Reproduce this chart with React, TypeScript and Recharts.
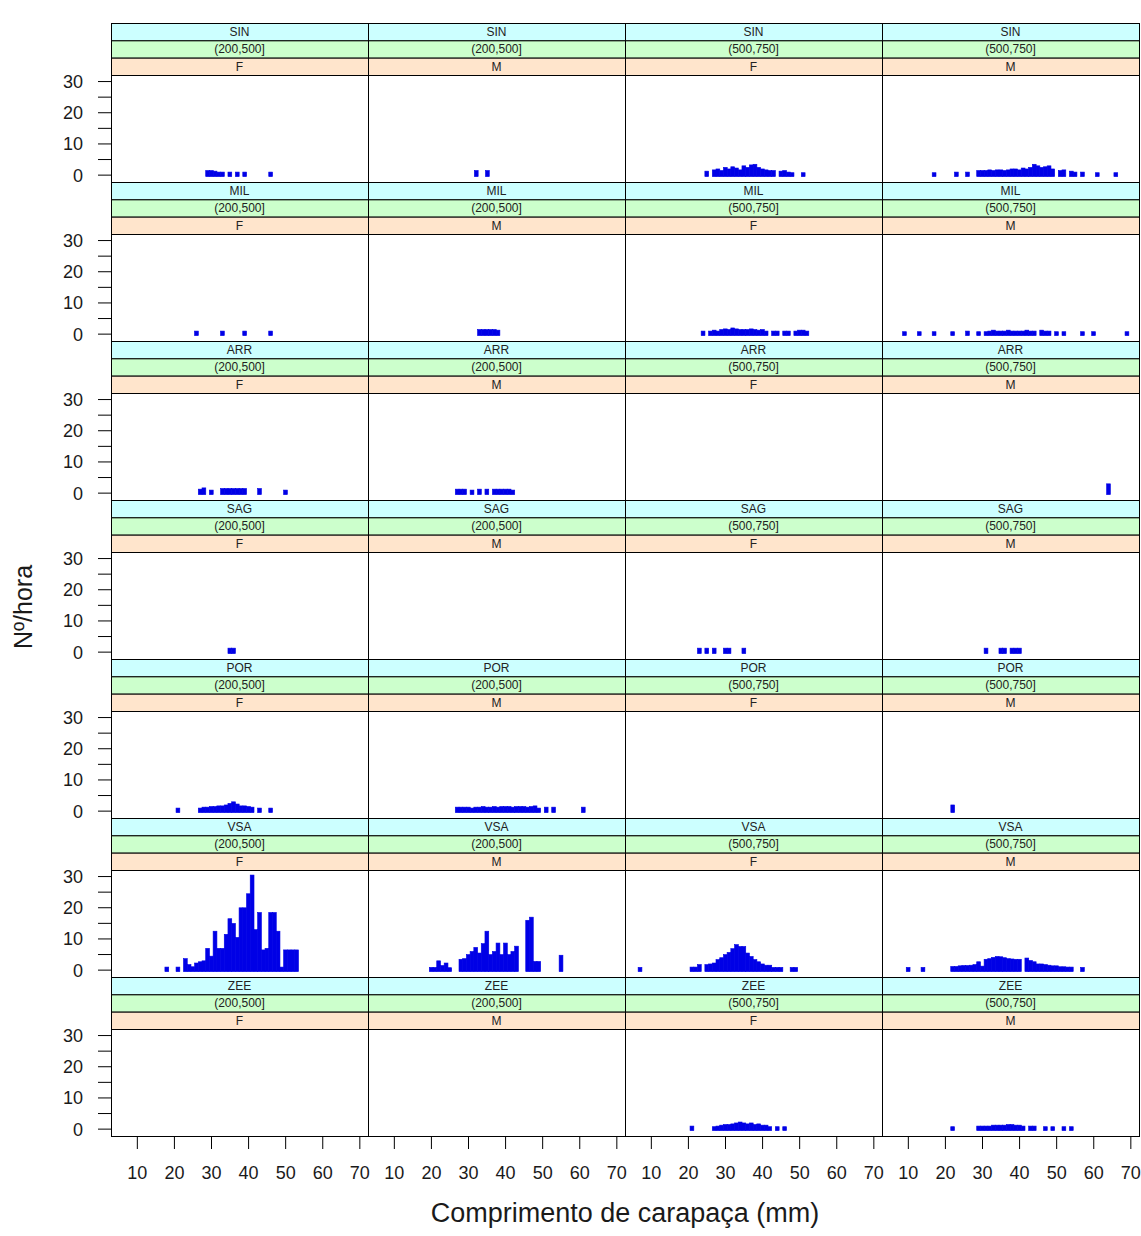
import React from 'react';
import { BarChart, Bar, XAxis, YAxis } from 'recharts';

type Pt = [number, number];

const LOCATIONS = ['SIN', 'MIL', 'ARR', 'SAG', 'POR', 'VSA', 'ZEE'];
const SIZE_CLASSES = ['(200,500]', '(200,500]', '(500,750]', '(500,750]'];
const SEXES = ['F', 'M', 'F', 'M'];
const X_TICKS = [10, 20, 30, 40, 50, 60, 70];
const Y_TICKS = [0, 5, 10, 15, 20, 25, 30];
const X_DOMAIN: [number, number] = [2.9, 72.2];
const Y_DOMAIN: [number, number] = [-2.2, 32.1];
const X_TITLE = 'Comprimento de carapaça (mm)';
const Y_TITLE = 'Nº/hora';

// [carapace length (mm), Nº/hora]
const SIN_A_F: Pt[] = [[29, 1], [30, 1], [31, 0.8], [32, 0.5], [33, 0.5], [35, 0.5], [37, 0.5], [39, 0.5], [46, 0.5]];
const SIN_A_M: Pt[] = [[32, 1], [35, 1]];
const SIN_B_F: Pt[] = [[25, 0.8], [27, 1.2], [28, 1.5], [29, 1], [30, 2], [31, 1.5], [32, 2.2], [33, 1.8], [34, 1.2], [35, 2.5], [36, 2], [37, 2.8], [38, 3], [39, 2], [40, 1.5], [41, 1.2], [42, 1], [43, 1], [45, 0.8], [46, 1], [47, 0.5], [48, 0.3], [51, 0.3]];
const SIN_B_M: Pt[] = [[17, 0.3], [23, 0.5], [26, 0.5], [29, 1], [30, 1], [31, 1], [32, 1.2], [33, 1], [34, 1.2], [35, 1.2], [36, 1], [37, 1.2], [38, 1.5], [39, 1.5], [40, 1.2], [41, 1.8], [42, 1.5], [43, 2], [44, 3], [45, 2.5], [46, 2], [47, 2.2], [48, 2.5], [49, 1.5], [51, 1], [52, 1.2], [54, 0.8], [55, 0.5], [57, 0.5], [61, 0.3], [66, 0.3]];

const MIL_A_F: Pt[] = [[26, 0.5], [33, 0.5], [39, 0.5], [46, 0.5]];
const MIL_A_M: Pt[] = [[33, 1], [34, 1], [35, 1], [36, 1], [37, 1], [38, 0.8]];
const MIL_B_F: Pt[] = [[24, 0.5], [26, 0.5], [27, 0.8], [28, 0.5], [29, 1], [30, 1.2], [31, 1], [32, 1.5], [33, 1.2], [34, 1], [35, 1], [36, 1], [37, 1.2], [38, 1], [39, 0.8], [40, 1], [41, 0.5], [43, 0.5], [44, 0.5], [46, 0.5], [47, 0.5], [49, 0.5], [50, 0.8], [51, 0.8], [52, 0.5]];
const MIL_B_M: Pt[] = [[9, 0.3], [13, 0.3], [17, 0.3], [22, 0.3], [26, 0.5], [29, 0.3], [31, 0.3], [32, 0.5], [33, 0.8], [34, 0.5], [35, 0.5], [36, 0.5], [37, 0.8], [38, 0.5], [39, 0.5], [40, 0.5], [41, 0.5], [42, 0.8], [43, 0.5], [44, 0.5], [46, 0.8], [47, 0.5], [48, 0.5], [50, 0.3], [52, 0.3], [57, 0.3], [60, 0.3], [69, 0.3]];

const ARR_A_F: Pt[] = [[27, 0.8], [28, 1.2], [30, 0.5], [33, 1], [34, 1], [35, 1], [36, 1], [37, 1], [38, 1], [39, 1], [43, 1], [50, 0.5]];
const ARR_A_M: Pt[] = [[27, 0.8], [28, 0.8], [29, 0.8], [31, 0.5], [33, 0.8], [35, 0.8], [37, 0.8], [38, 0.8], [39, 0.8], [40, 0.8], [41, 0.8], [42, 0.5]];
const ARR_B_F: Pt[] = [];
const ARR_B_M: Pt[] = [[64, 2.5]];

const SAG_A_F: Pt[] = [[35, 0.8], [36, 0.8]];
const SAG_A_M: Pt[] = [];
const SAG_B_F: Pt[] = [[23, 0.8], [25, 0.8], [27, 0.8], [30, 0.8], [31, 0.8], [35, 0.8]];
const SAG_B_M: Pt[] = [[31, 0.8], [35, 0.8], [36, 0.8], [38, 0.8], [39, 0.8], [40, 0.8]];

const POR_A_F: Pt[] = [[21, 0.5], [27, 0.5], [28, 0.8], [29, 0.8], [30, 1], [31, 1], [32, 1.2], [33, 1.2], [34, 1.5], [35, 2], [36, 2.5], [37, 1.8], [38, 1.2], [39, 1.2], [40, 1], [41, 0.8], [43, 0.5], [46, 0.5]];
const POR_A_M: Pt[] = [[27, 0.8], [28, 0.8], [29, 0.8], [30, 0.8], [31, 0.5], [32, 0.8], [33, 0.8], [34, 1], [35, 0.8], [36, 0.8], [37, 1], [38, 0.8], [39, 1], [40, 1], [41, 1], [42, 0.8], [43, 1], [44, 1], [45, 1], [46, 0.8], [47, 1], [48, 1.2], [49, 0.5], [51, 0.8], [53, 0.8], [61, 0.8]];
const POR_B_F: Pt[] = [];
const POR_B_M: Pt[] = [[22, 1.5]];

const VSA_A_F: Pt[] = [[18, 0.5], [21, 0.5], [23, 3.2], [24, 1.3], [25, 0.6], [26, 1.8], [27, 2.2], [28, 2.5], [29, 6.5], [30, 4], [31, 12], [32, 6.5], [33, 6.5], [34, 11], [35, 16], [36, 14.5], [37, 10], [38, 19.5], [39, 19.5], [40, 24], [41, 30], [42, 12.5], [43, 18], [44, 6], [45, 6.5], [46, 18], [47, 18], [48, 12], [49, 0.5], [50, 6], [51, 6], [52, 6], [53, 6]];
const VSA_A_M: Pt[] = [[20, 0.4], [21, 0.4], [22, 2.5], [23, 1], [24, 1.8], [25, 0.3], [28, 3], [29, 3.2], [30, 4.5], [31, 5.5], [32, 6.8], [33, 5], [34, 8], [35, 12], [36, 4.5], [37, 5.5], [38, 8.2], [39, 4.5], [40, 8.2], [41, 4.5], [42, 5.5], [43, 7.2], [46, 15.5], [47, 16.5], [48, 2.3], [49, 2.3], [55, 4.3]];
const VSA_B_F: Pt[] = [[7, 0.4], [21, 0.5], [22, 0.5], [23, 1.3], [25, 1.3], [26, 1.5], [27, 1.8], [28, 2.9], [29, 3.5], [30, 4.5], [31, 5.2], [32, 6.4], [33, 7.7], [34, 7.1], [35, 7.1], [36, 5], [37, 3.9], [38, 2.9], [39, 2.2], [40, 1.5], [41, 1.1], [42, 1.1], [43, 0.4], [44, 0.4], [45, 0.4], [48, 0.4], [49, 0.4]];
const VSA_B_M: Pt[] = [[10, 0.4], [14, 0.4], [22, 0.7], [23, 0.7], [24, 0.9], [25, 1], [26, 1], [27, 1.1], [28, 1.3], [29, 2.2], [30, 0.8], [31, 3], [32, 3.2], [33, 3.6], [34, 3.9], [35, 3.8], [36, 3.5], [37, 3.2], [38, 3.1], [39, 3], [40, 3], [42, 3.4], [43, 2.6], [44, 2.2], [45, 1.5], [46, 1.5], [47, 1.3], [48, 1.1], [49, 0.9], [50, 0.9], [51, 0.6], [52, 0.6], [53, 0.5], [54, 0.5], [57, 0.4]];

const ZEE_A_F: Pt[] = [];
const ZEE_A_M: Pt[] = [];
const ZEE_B_F: Pt[] = [[21, 0.5], [27, 0.3], [28, 0.5], [29, 0.8], [30, 1], [31, 1], [32, 1.2], [33, 1.5], [34, 1.8], [35, 1.5], [36, 1.2], [37, 1.5], [38, 1], [39, 1.2], [40, 0.8], [41, 0.8], [42, 0.3], [44, 0.3], [46, 0.3]];
const ZEE_B_M: Pt[] = [[22, 0.3], [29, 0.5], [30, 0.5], [31, 0.5], [32, 0.5], [33, 0.8], [34, 0.8], [35, 0.8], [36, 0.8], [37, 1], [38, 1], [39, 0.8], [40, 0.8], [41, 0.5], [43, 0.5], [44, 0.5], [47, 0.3], [49, 0.3], [52, 0.3], [54, 0.3]];

const PANELS: Pt[][][] = [
  [SIN_A_F, SIN_A_M, SIN_B_F, SIN_B_M],
  [MIL_A_F, MIL_A_M, MIL_B_F, MIL_B_M],
  [ARR_A_F, ARR_A_M, ARR_B_F, ARR_B_M],
  [SAG_A_F, SAG_A_M, SAG_B_F, SAG_B_M],
  [POR_A_F, POR_A_M, POR_B_F, POR_B_M],
  [VSA_A_F, VSA_A_M, VSA_B_F, VSA_B_M],
  [ZEE_A_F, ZEE_A_M, ZEE_B_F, ZEE_B_M],
];

// layout
const FONT = '"Liberation Sans", Arial, Helvetica, sans-serif';
const COL_X = [111, 368, 625, 882];
const PW = 257;
const TOP0 = 23;
const ROW_H = 159;
const SH = 52 / 3;
const PH = 107;
const LEFT_W = 71;
const BOTTOM_H = 60;
const PAD = 10;
const PAD_R = 16;
const BAR_W = 3.8;
const BAR_FILL = '#0000E6';
const TEXT = '#1a1a1a';

function BarShape(props: any) {
  const { x, y, width, height } = props;
  if (![x, y, width, height].every((v: any) => Number.isFinite(v))) return null;
  const cx = x + width / 2;
  const top = Math.min(y, y + height) - 1.5;
  const h = Math.abs(height) + 3;
  return (
    <rect
      x={cx - BAR_W / 2}
      y={top}
      width={BAR_W}
      height={h}
      fill={BAR_FILL}
      stroke={BAR_FILL}
      strokeWidth={0.6}
    />
  );
}

function Panel({ data, col, row }: { data: Pt[]; col: number; row: number }) {
  const showY = col === 0;
  const showX = row === LOCATIONS.length - 1;
  const w = PW + (showY ? LEFT_W : 0) + PAD_R;
  const h = PH + PAD * 2 + (showX ? BOTTOM_H : 0);
  const left = COL_X[col] - (showY ? LEFT_W : 0);
  const top = TOP0 + row * ROW_H + 52 - PAD;
  const rows = data.map(([x, y]) => ({ x, y }));
  return (
    <div style={{ position: 'absolute', left, top, width: w, height: h }}>
      <BarChart width={w} height={h} data={rows} margin={{ top: PAD, right: PAD_R, bottom: PAD, left: 0 }}>
        <XAxis
          dataKey="x"
          type="number"
          domain={X_DOMAIN}
          allowDataOverflow
          ticks={X_TICKS}
          interval={0}
          hide={!showX}
          height={BOTTOM_H}
          axisLine={false}
          tickLine={{ stroke: '#000' }}
          tickSize={13}
          tickMargin={17}
          tick={{ fontSize: 18, fill: TEXT, fontFamily: FONT }}
        />
        <YAxis
          type="number"
          domain={Y_DOMAIN}
          allowDataOverflow
          ticks={Y_TICKS}
          interval={0}
          hide={!showY}
          width={LEFT_W}
          axisLine={false}
          tickLine={{ stroke: '#000' }}
          tickSize={13}
          tickMargin={15}
          tickFormatter={(v: number) => (v % 10 === 0 ? String(v) : '')}
          tick={{ fontSize: 18, fill: TEXT, fontFamily: FONT }}
        />
        <Bar dataKey="y" barSize={3.8} shape={BarShape} isAnimationActive={false} />
      </BarChart>
    </div>
  );
}

function TopAxis({ col }: { col: number }) {
  return (
    <div style={{ position: 'absolute', left: COL_X[col], top: TOP0 - 12, width: PW, height: 13 }}>
      <BarChart width={PW} height={13} data={[{ x: 10, y: 0 }]} margin={{ top: 0, right: 0, bottom: 0, left: 0 }}>
        <XAxis
          dataKey="x"
          type="number"
          orientation="top"
          domain={X_DOMAIN}
          allowDataOverflow
          ticks={X_TICKS}
          interval={0}
          height={12}
          tickSize={12}
          tick={false}
          axisLine={false}
          tickLine={{ stroke: '#000' }}
        />
        <YAxis hide domain={[0, 1]} />
      </BarChart>
    </div>
  );
}

function Frame() {
  const els: React.ReactNode[] = [];
  LOCATIONS.forEach((loc, r) => {
    COL_X.forEach((cx, c) => {
      const y0 = TOP0 + r * ROW_H;
      const labels = [loc, SIZE_CLASSES[c], SEXES[c]];
      const fills = ['#CCFFFF', '#CCFFCC', '#FFE5CC'];
      labels.forEach((lab, i) => {
        const sy = y0 + i * SH;
        els.push(
          <rect key={`s${r}-${c}-${i}`} x={cx + 0.5} y={sy + 0.5} width={PW} height={SH} fill={fills[i]} stroke="#000" strokeWidth={1} />
        );
        els.push(
          <text key={`t${r}-${c}-${i}`} x={cx + PW / 2} y={sy + SH / 2 + 4.3} textAnchor="middle" fontSize={12} fill="#222" fontFamily={FONT}>
            {lab}
          </text>
        );
      });
      els.push(
        <rect key={`p${r}-${c}`} x={cx + 0.5} y={y0 + 52 + 0.5} width={PW} height={PH} fill="none" stroke="#000" strokeWidth={1} />
      );
    });
  });
  return (
    <svg width={1141} height={1236} style={{ position: 'absolute', left: 0, top: 0, pointerEvents: 'none' }}>
      {els}
      <text x={625} y={1222} textAnchor="middle" fontSize={27} fill={TEXT} fontFamily={FONT}>
        {X_TITLE}
      </text>
      <text x={32} y={607} transform="rotate(-90 32 607)" textAnchor="middle" fontSize={25} fill={TEXT} fontFamily={FONT}>
        {Y_TITLE}
      </text>
    </svg>
  );
}

export default function App() {
  return (
    <div style={{ position: 'absolute', left: 0, top: 0, width: 1141, height: 1236, background: '#fff', fontFamily: FONT }}>
      {PANELS.map((rowData, r) =>
        rowData.map((d, c) => <Panel key={`${r}-${c}`} data={d} col={c} row={r} />)
      )}
      {COL_X.map((_, c) => (
        <TopAxis key={`top${c}`} col={c} />
      ))}
      <Frame />
    </div>
  );
}
